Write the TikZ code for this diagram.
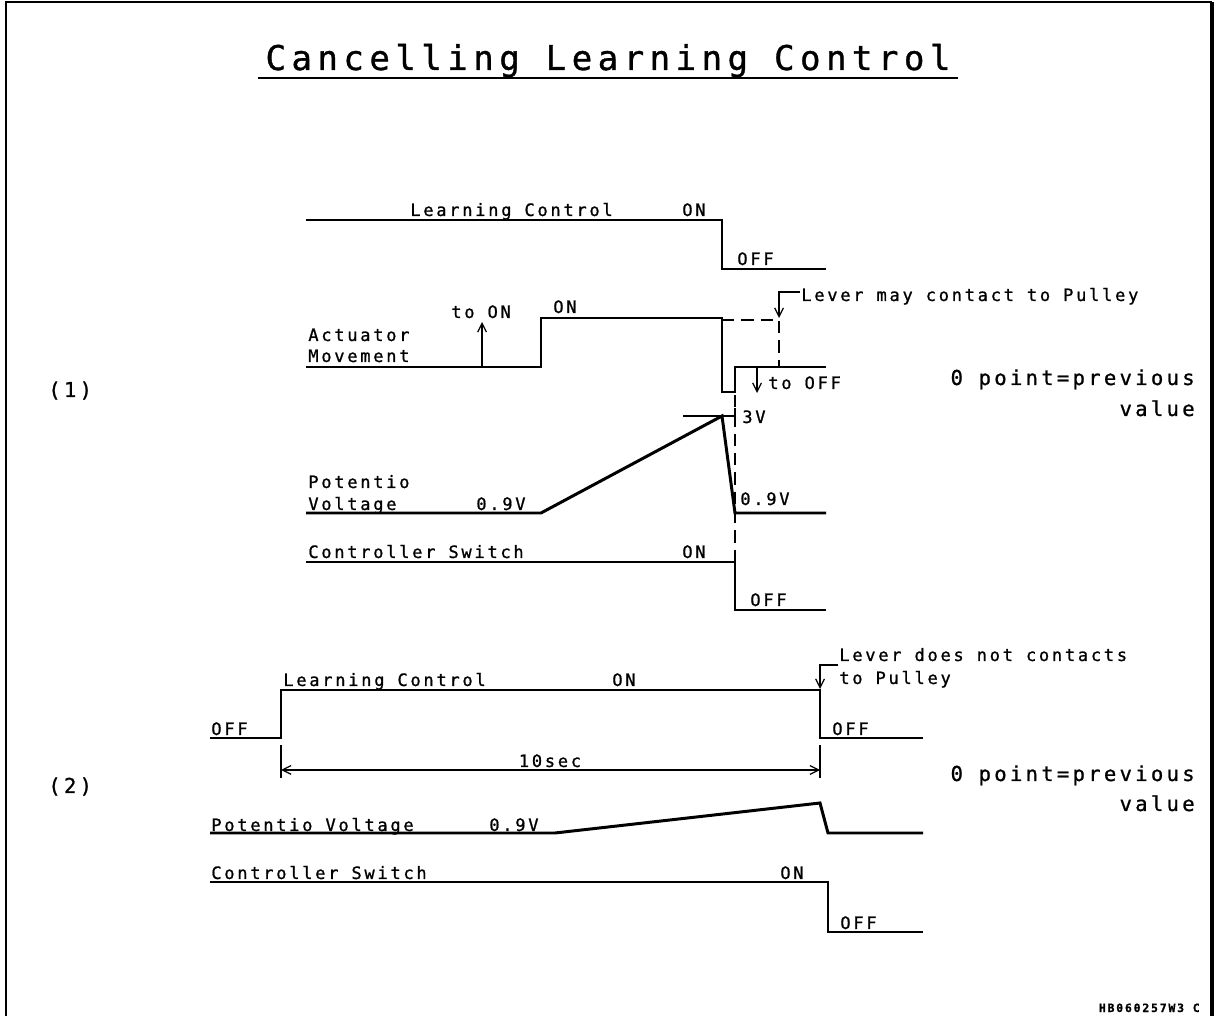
\documentclass[tikz,border=0pt]{standalone}
\usepackage{fontspec}
\usepackage{tikz}
\usetikzlibrary{arrows.meta}
\newfontfamily\cadfont[LetterSpace=16,FakeBold=1]{DejaVu Sans Mono}
\tikzset{
  sig/.style={draw=black,line width=1.7pt},
  fine/.style={draw=black,line width=0.7pt},
  tip/.style={-{Straight Barb[length=5pt,width=5pt]}},
  lbl/.style={font=\cadfont\fontsize{9.7}{11}\selectfont,inner sep=0pt,anchor=base west},
  big/.style={font=\cadfont\fontsize{11.7}{14}\selectfont,inner sep=0pt},
}
\tikzset{dsh/.style={fine,dash pattern=on 7pt off 4pt}}
\begin{document}
\begin{tikzpicture}[x=0.02cm,y=-0.02cm]
\useasboundingbox (0,0) rectangle (1215,1016);
% frame and title
\draw[line width=1.4pt] (6,1016)--(6,2)--(1212,2);\draw[line width=2.2pt] (1212,2)--(1212,1016);
\node[font=\cadfont\fontsize{19.4}{22}\selectfont,inner sep=0pt,anchor=base] (title) at (608,70) {Cancelling Learning Control};
\draw[fine] (258,78)--(958,78);
% ---- case (1)
\node[big,anchor=base west] (c1) at (48,397) {(1)};
\draw[sig] (306,220)--(722,220)--(722,269)--(826,269);
\node[lbl] (lc1) at (410,216) {Learning Control};\node[lbl] (lcon1) at (682,216) {ON};\node[lbl] (lcoff1) at (737,265) {OFF};
\draw[sig] (306,367)--(541,367)--(541,318)--(722,318)--(722,392)--(735,392)--(735,367)--(826,367);
\node[lbl] (act) at (308,341) {Actuator};\node[lbl] (mov) at (308,362) {Movement};
\node[lbl] (toon) at (451,318) {to ON};\node[lbl] (acton) at (553,313) {ON};
\coordinate (up0) at (482,367);\coordinate (up1) at (482,322);\draw[fine,tip] (up0)--(up1);
\coordinate (dn0) at (757,367);\coordinate (dn1) at (757,393);\draw[fine,tip] (dn0)--(dn1);
\node[lbl] (tooff) at (768,389) {to OFF};
\draw[dsh] (722,320)--(779,320)--(779,367);
\node[lbl] (lever1) at (801,301) {Lever may contact to Pulley};
\coordinate (lv0) at (800,292);\coordinate (lv1) at (779,318);\draw[fine,tip] (lv0)-|(lv1);
\draw[sig] (306,513)--(541,513)--(722,416)--(735,513)--(826,513);
\draw[fine] (683,416)--(735,416);\draw[fine] (735,408)--(735,424);
\draw[dsh] (735,395)--(735,562);
\node[lbl] (v3) at (742,423) {3V};
\node[lbl] (pot1) at (308,488) {Potentio};\node[lbl] (vol1) at (308,510) {Voltage};
\node[lbl] (v09a) at (476,510) {0.9V};\node[lbl] (v09b) at (740,505) {0.9V};
\draw[sig] (306,562)--(735,562)--(735,610)--(826,610);
\node[lbl] (cs1) at (308,558) {Controller Switch};\node[lbl] (cson1) at (682,558) {ON};\node[lbl] (csoff1) at (750,606) {OFF};
\node[big,anchor=base east] (zp1) at (1195,385) {0 point=previous};\node[big,anchor=base east] (val1) at (1195,416) {value};
% ---- case (2)
\node[big,anchor=base west] (c2) at (48,793) {(2)};
\draw[sig] (210,738)--(281,738)--(281,690)--(820,690)--(820,738)--(923,738);
\node[lbl] (lcoff2) at (211,735) {OFF};\node[lbl] (lc2) at (283,686) {Learning Control};
\node[lbl] (lcon2) at (612,686) {ON};\node[lbl] (lcoff3) at (832,735) {OFF};
\draw[fine] (281,745)--(281,778);\draw[fine] (820,745)--(820,778);
\coordinate (ta) at (281,770);\coordinate (tb) at (820,770);
\draw[fine,{Straight Barb[length=5pt,width=5pt]}-{Straight Barb[length=5pt,width=5pt]}] (ta)--(tb);
\node[lbl,anchor=base] (tsec) at (550,767) {10sec};
\node[lbl] (lever2) at (839,661) {Lever does not contacts};\node[lbl] (lever3) at (839,684) {to Pulley};
\coordinate (lw0) at (838,665);\coordinate (lw1) at (820,689);\draw[fine,tip] (lw0)-|(lw1);
\draw[sig] (210,833)--(555,833)--(820,803)--(828,833)--(923,833);
\node[lbl] (pv2) at (211,831) {Potentio Voltage};\node[lbl] (v09c) at (489,831) {0.9V};
\draw[sig] (210,882)--(828,882)--(828,932)--(923,932);
\node[lbl] (cs2) at (211,879) {Controller Switch};\node[lbl] (cson2) at (780,879) {ON};\node[lbl] (csoff2) at (840,929) {OFF};
\node[big,anchor=base east] (zp2) at (1195,781) {0 point=previous};\node[big,anchor=base east] (val2) at (1195,811) {value};
\node[font=\cadfont\bfseries\fontsize{6.5}{8}\selectfont,inner sep=0pt,anchor=base east] (code) at (1200,1012) {HB060257W3 C};
\end{tikzpicture}
\end{document}
